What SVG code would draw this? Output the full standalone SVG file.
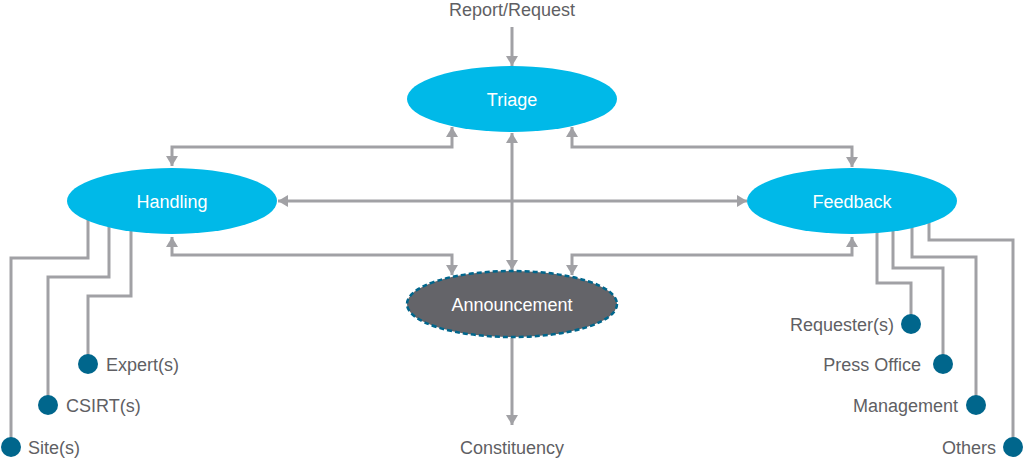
<svg xmlns="http://www.w3.org/2000/svg" width="1025" height="460" viewBox="0 0 1025 460">
<style>
.c{fill:none;stroke:#a1a1a5;stroke-width:3}
.a{marker-end:url(#ah)}
.b{marker-start:url(#ah);marker-end:url(#ah)}
.n{fill:#00b9e8}
.t{font-family:"Liberation Sans",Arial,sans-serif;font-size:18px;fill:#ffffff;text-anchor:middle}
.l{font-family:"Liberation Sans",Arial,sans-serif;font-size:18px;fill:#5f5f64}
.d{fill:#00668c}
</style>
<defs>
<marker id="ah" markerUnits="userSpaceOnUse" markerWidth="12" markerHeight="12" refX="10" refY="6" orient="auto-start-reverse">
<path d="M0,0 L10,6 L0,12 z" fill="#a1a1a5"/>
</marker>
</defs>
<g id="connectors">
<path class="c a" d="M512,27 V66"/>
<path class="c b" d="M452,127 V147 H172 V166"/>
<path class="c b" d="M572,127 V147 H852 V167"/>
<path class="c b" d="M278,201 H747"/>
<path class="c b" d="M172,237 V255 H452 V275"/>
<path class="c b" d="M852,237 V255 H572 V275"/>
<path class="c b" d="M512,133 V270"/>
<path class="c a" d="M512,338 V425"/>
<path class="c" d="M88,215 V258 H11 V447"/>
<path class="c" d="M109,215 V277 H48 V405"/>
<path class="c" d="M131,215 V296 H88 V364"/>
<path class="c" d="M877,215 V283 H911 V324"/>
<path class="c" d="M893,215 V268 H943 V364"/>
<path class="c" d="M912,215 V257 H976 V405"/>
<path class="c" d="M929,215 V240 H1013 V447"/>
</g>
<g id="triage"><ellipse class="n" cx="512" cy="99" rx="105" ry="33"/><text class="t" x="512" y="105.5">Triage</text></g>
<g id="handling"><ellipse class="n" cx="172" cy="201" rx="105" ry="33"/><text class="t" x="172" y="207.5">Handling</text></g>
<g id="feedback"><ellipse class="n" cx="852" cy="201" rx="105" ry="33"/><text class="t" x="852" y="207.5">Feedback</text></g>
<g id="announcement"><ellipse cx="512" cy="304" rx="105" ry="33" fill="#646469" stroke="#00668c" stroke-width="2.5" stroke-dasharray="5,3"/><text class="t" x="512" y="310.5">Announcement</text></g>
<g id="report"><text class="l" x="512" y="15.5" text-anchor="middle">Report/Request</text></g>
<g id="constituency"><text class="l" x="512" y="453.5" text-anchor="middle">Constituency</text></g>
<g id="experts"><circle class="d" cx="88" cy="364" r="10"/><text class="l" x="106" y="370.5">Expert(s)</text></g>
<g id="csirts"><circle class="d" cx="48" cy="405" r="10"/><text class="l" x="66" y="411.5">CSIRT(s)</text></g>
<g id="sites"><circle class="d" cx="11" cy="447" r="10"/><text class="l" x="28" y="453.5">Site(s)</text></g>
<g id="requesters"><circle class="d" cx="911" cy="324" r="10"/><text class="l" x="894" y="330.5" text-anchor="end">Requester(s)</text></g>
<g id="pressoffice"><circle class="d" cx="943" cy="364" r="10"/><text class="l" x="921" y="370.5" text-anchor="end">Press Office</text></g>
<g id="management"><circle class="d" cx="976" cy="405" r="10"/><text class="l" x="958" y="411.5" text-anchor="end">Management</text></g>
<g id="others"><circle class="d" cx="1013" cy="447" r="10"/><text class="l" x="996" y="453.5" text-anchor="end">Others</text></g>
</svg>
